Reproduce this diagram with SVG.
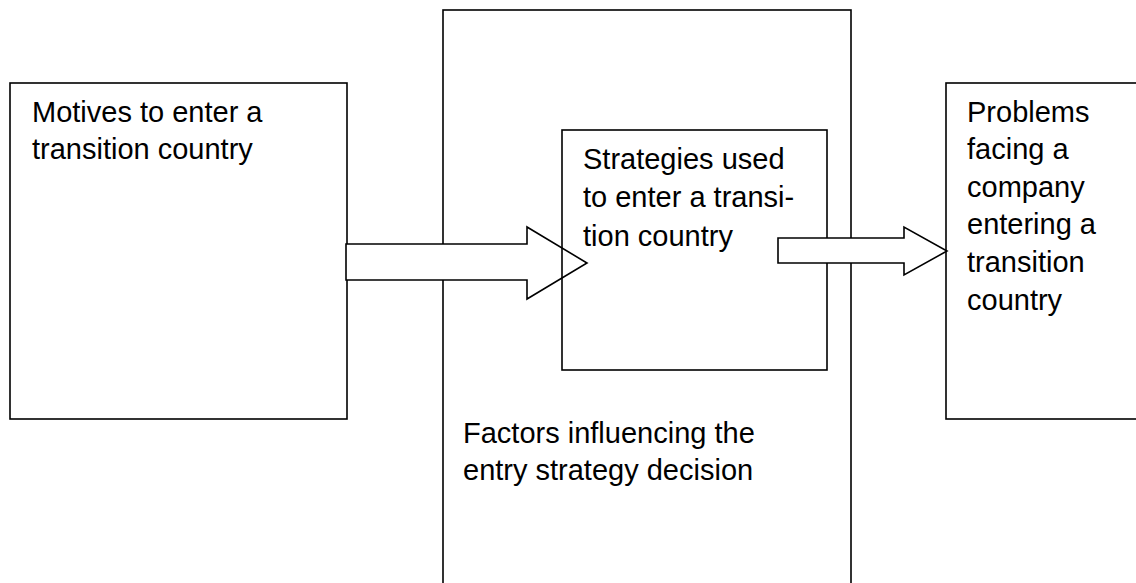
<svg xmlns="http://www.w3.org/2000/svg" width="1136" height="583" viewBox="0 0 1136 583">
<style>
.box{fill:none;stroke:#000;stroke-width:1.6}
.arrow{fill:#fff;stroke:#000;stroke-width:1.6;stroke-linejoin:miter}
.t{font-family:"Liberation Sans",Arial,sans-serif;font-size:29px;fill:#000}
</style>
<rect width="1136" height="583" fill="#fff"/>
<g id="factors">
<rect class="box" x="443" y="10" width="408" height="600"/>
<text class="t" x="463" y="443">Factors influencing the</text>
<text class="t" x="463" y="480">entry strategy decision</text>
</g>
<g id="motives">
<rect class="box" x="10" y="83" width="337" height="336"/>
<text class="t" x="32" y="122">Motives to enter a</text>
<text class="t" x="32" y="159">transition country</text>
</g>
<g id="connectors">
<polygon id="arrow1" class="arrow" points="346,244 527,244 527,227 587,263 527,299 527,280 346,280"/>
</g>
<g id="strategies">
<rect class="box" x="562" y="130" width="265" height="240"/>
<text class="t" x="583" y="169">Strategies used</text>
<text class="t" x="583" y="207">to enter a transi-</text>
<text class="t" x="583" y="246">tion country</text>
</g>
<g id="connectors2">
<polygon id="arrow2" class="arrow" points="778,238 904,238 904,227 947,251 904,275 904,263 778,263"/>
</g>
<g id="problems">
<rect class="box" x="946" y="83" width="220" height="336"/>
<text class="t" x="967" y="122">Problems</text>
<text class="t" x="967" y="159">facing a</text>
<text class="t" x="967" y="197">company</text>
<text class="t" x="967" y="234">entering a</text>
<text class="t" x="967" y="272">transition</text>
<text class="t" x="967" y="310">country</text>
</g>
</svg>
